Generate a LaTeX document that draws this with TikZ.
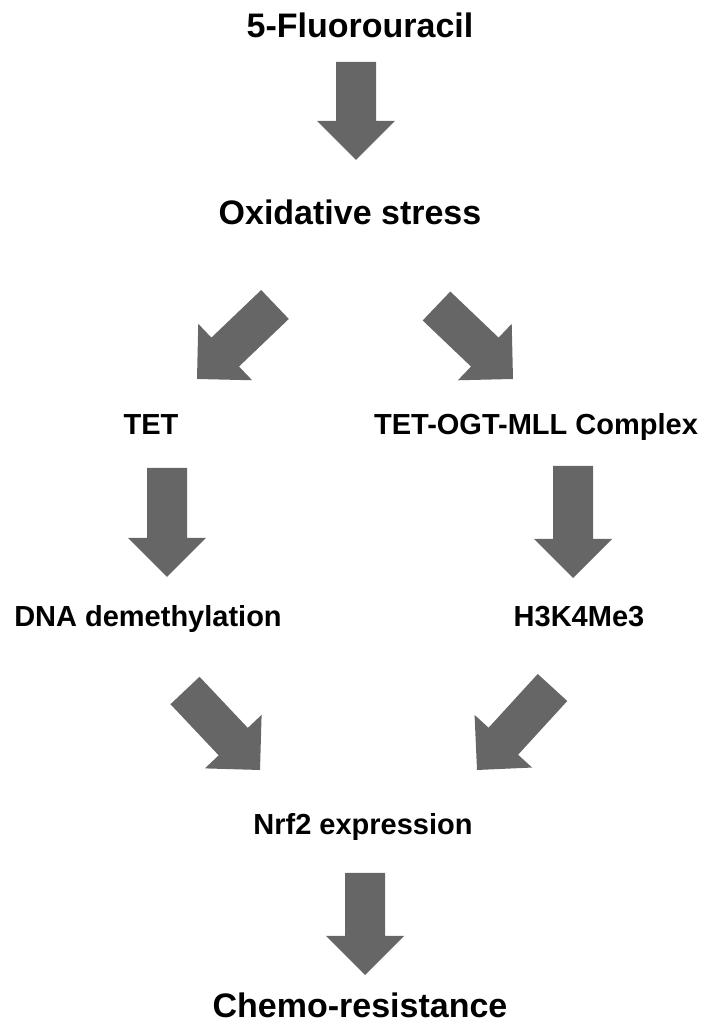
\documentclass[tikz,border=0pt]{standalone}
\usepackage{fontspec}
\setmainfont{Liberation Sans}
\usetikzlibrary{calc}
\usepackage{xcolor}
\definecolor{arrowgray}{RGB}{102,102,102}

\begin{document}
\begin{tikzpicture}[
        x=1pt, y=1pt,
        title/.style={anchor=base, inner sep=0pt, font=\fontsize{34}{40}\selectfont\bfseries},
        label/.style={anchor=base, inner sep=0pt, font=\fontsize{29}{34}\selectfont\bfseries},
        fatarrow/.style={fill=arrowgray, to path={
            let \p1=($(\tikztotarget)!39pt!(\tikztostart)$) in
            ($(\tikztostart)!20pt!90:(\tikztotarget)$) -- ($(\p1)!20pt!90:(\tikztotarget)$)
            -- ($(\p1)!39pt!90:(\tikztotarget)$) -- (\tikztotarget)
            -- ($(\p1)!39pt!-90:(\tikztotarget)$) -- ($(\p1)!20pt!-90:(\tikztotarget)$)
            -- ($(\tikztostart)!20pt!-90:(\tikztotarget)$) -- cycle}}
    ]
    \useasboundingbox (0,0) rectangle (718,1033);

    % TEXTOS
    \node[title] (fu) at (360,995) {5-Fluorouracil};
    \node[title] (ox) at (350,808) {Oxidative stress};
    \node[label] (tet) at (151,598) {TET};
    \node[label] (cplx) at (536,598) {TET-OGT-MLL Complex};
    \node[label] (dna) at (148,406) {DNA demethylation};
    \node[label] (h3) at (579,406) {H3K4Me3};
    \node[label] (nrf) at (363,198) {Nrf2 expression};
    \node[title] (chemo) at (360,16) {Chemo-resistance};

    % Flechas
    \path[fatarrow] ([xshift=-4pt, yshift=-24pt]fu.base) to ([xshift=6pt, yshift=65pt]ox.base);
    \path[fatarrow] ([xshift=-75pt, yshift=-79.5pt]ox.base) to ([xshift=46pt, yshift=56pt]tet.base);
    \path[fatarrow] ([xshift=86.5pt, yshift=-81pt]ox.base) to ([xshift=-23pt, yshift=56pt]cplx.base);
    \path[fatarrow] ([xshift=16pt, yshift=-33pt]tet.base) to ([xshift=19pt, yshift=50pt]dna.base);
    \path[fatarrow] ([xshift=37pt, yshift=-31pt]cplx.base) to ([xshift=-6pt, yshift=49pt]h3.base);
    \path[fatarrow] ([xshift=37pt, yshift=-63.5pt]dna.base) to ([xshift=-103pt, yshift=65pt]nrf.base);
    \path[fatarrow] ([xshift=-26.5pt, yshift=-60.5pt]h3.base) to ([xshift=114pt, yshift=65pt]nrf.base);
    \path[fatarrow] ([xshift=2pt, yshift=-38pt]nrf.base) to ([xshift=5pt, yshift=42pt]chemo.base);
\end{tikzpicture}
\end{document}
